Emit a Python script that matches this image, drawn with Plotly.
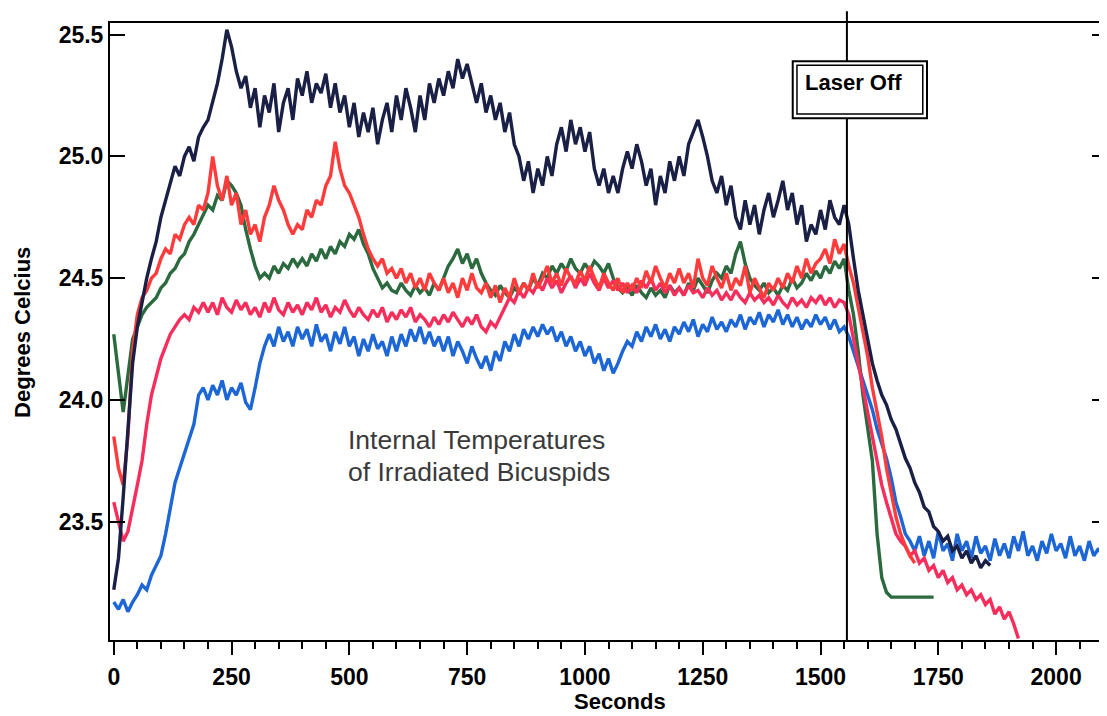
import plotly.graph_objects as go

# time grid (seconds), sampled every 10 s
SECONDS = list(range(0, 2120, 10))

NAVY = [
    23.22, 23.35, 23.60, 23.90, 24.15, 24.30, 24.40, 24.50, 24.58, 24.65,
    24.75, 24.82, 24.90, 24.96, 24.92, 25.00, 25.04, 24.98, 25.08, 25.12,
    25.15, 25.22, 25.30, 25.40, 25.52, 25.45, 25.35, 25.28, 25.33, 25.20,
    25.28, 25.12, 25.25, 25.18, 25.30, 25.10, 25.22, 25.28, 25.15, 25.32,
    25.25, 25.35, 25.22, 25.30, 25.26, 25.34, 25.20, 25.30, 25.18, 25.25,
    25.12, 25.22, 25.08, 25.18, 25.10, 25.20, 25.05, 25.15, 25.22, 25.10,
    25.25, 25.15, 25.28, 25.20, 25.10, 25.25, 25.15, 25.30, 25.22, 25.32,
    25.25, 25.35, 25.28, 25.40, 25.32, 25.38, 25.30, 25.22, 25.30, 25.18,
    25.25, 25.15, 25.22, 25.10, 25.18, 25.05, 25.00, 24.90, 24.98, 24.85,
    24.95, 24.88, 25.00, 24.92, 25.05, 25.12, 25.02, 25.15, 25.05, 25.12,
    25.02, 25.10, 24.95, 24.88, 24.95, 24.85, 24.92, 24.85, 24.95, 25.02,
    24.95, 25.05, 24.98, 24.88, 24.95, 24.80, 24.92, 24.85, 24.98, 24.90,
    25.00, 24.92, 25.05, 25.10, 25.15, 25.08, 25.00, 24.90, 24.85, 24.92,
    24.80, 24.88, 24.75, 24.70, 24.82, 24.72, 24.80, 24.68, 24.78, 24.85,
    24.75, 24.82, 24.90, 24.78, 24.85, 24.72, 24.80, 24.65, 24.72, 24.68,
    24.78, 24.70, 24.82, 24.75, 24.72, 24.80, 24.72, 24.58, 24.45, 24.35,
    24.25, 24.15, 24.08, 24.02, 23.98, 23.92, 23.88, 23.82, 23.76, 23.72,
    23.66, 23.62, 23.56, 23.54, 23.48, 23.46, 23.42, 23.44, 23.38, 23.40,
    23.35, 23.38, 23.33, 23.36, 23.31, 23.34, 23.32,
]

ORANGE_RED = [
    23.85, 23.72, 23.65, 23.85, 24.20, 24.35, 24.42, 24.45, 24.50, 24.52,
    24.58, 24.62, 24.60, 24.68, 24.66, 24.72, 24.75, 24.72, 24.80, 24.78,
    24.85, 25.00, 24.88, 24.82, 24.92, 24.80, 24.85, 24.72, 24.78, 24.68,
    24.72, 24.65, 24.75, 24.80, 24.88, 24.82, 24.78, 24.72, 24.68, 24.72,
    24.70, 24.78, 24.75, 24.82, 24.80, 24.88, 24.92, 25.06, 24.95, 24.88,
    24.85, 24.80, 24.75, 24.68, 24.62, 24.58, 24.55, 24.58, 24.52, 24.54,
    24.50, 24.54, 24.48, 24.52, 24.46, 24.50, 24.45, 24.52, 24.48, 24.45,
    24.50, 24.44, 24.48, 24.42, 24.50, 24.45, 24.52, 24.46, 24.44, 24.48,
    24.42, 24.47, 24.40, 24.46, 24.42, 24.50, 24.44, 24.48, 24.45, 24.52,
    24.46, 24.50, 24.55, 24.48, 24.52, 24.47, 24.54, 24.50, 24.48, 24.53,
    24.49, 24.55, 24.50, 24.46, 24.52, 24.48, 24.45, 24.50, 24.44, 24.48,
    24.45, 24.50, 24.46, 24.53, 24.48, 24.55, 24.50, 24.46, 24.52, 24.48,
    24.54, 24.48, 24.52, 24.46, 24.58, 24.50, 24.47, 24.55, 24.50, 24.46,
    24.52, 24.45, 24.50, 24.47, 24.55, 24.44, 24.50, 24.46, 24.42, 24.48,
    24.45, 24.50, 24.46, 24.52, 24.48, 24.55, 24.50, 24.58, 24.52, 24.56,
    24.58, 24.62, 24.56, 24.66, 24.60, 24.64, 24.55, 24.48, 24.38, 24.28,
    24.18, 24.05, 23.95, 23.85, 23.72, 23.62, 23.52, 23.45, 23.40, 23.36,
    23.33,
]

GREEN = [
    24.27, 24.10, 23.95, 24.10, 24.25, 24.30, 24.35, 24.38, 24.40, 24.42,
    24.46, 24.48, 24.52, 24.54, 24.58, 24.60, 24.65, 24.68, 24.72, 24.76,
    24.80, 24.78, 24.84, 24.82, 24.90, 24.88, 24.85, 24.80, 24.70, 24.62,
    24.55, 24.50, 24.52, 24.50, 24.55, 24.52, 24.56, 24.54, 24.58, 24.55,
    24.58, 24.55, 24.60, 24.57, 24.62, 24.58, 24.63, 24.60, 24.65, 24.63,
    24.68, 24.66, 24.70, 24.64, 24.60, 24.54, 24.50, 24.46, 24.48, 24.45,
    24.44, 24.48, 24.45, 24.43, 24.47, 24.44, 24.46, 24.43, 24.48, 24.45,
    24.50, 24.55, 24.58, 24.62, 24.56, 24.60, 24.54, 24.58, 24.52, 24.48,
    24.45, 24.43, 24.47, 24.44, 24.42, 24.46, 24.44, 24.48, 24.45, 24.50,
    24.47, 24.52, 24.50, 24.55, 24.52, 24.56, 24.53, 24.58, 24.54, 24.52,
    24.56, 24.53, 24.57, 24.55, 24.52, 24.56, 24.50, 24.46, 24.44, 24.46,
    24.43, 24.47, 24.44, 24.42, 24.46, 24.43, 24.45, 24.42, 24.47, 24.44,
    24.46, 24.43, 24.48, 24.45, 24.50, 24.47, 24.44, 24.49, 24.52, 24.50,
    24.55, 24.52, 24.60, 24.65, 24.56, 24.50, 24.47, 24.45, 24.48, 24.44,
    24.46, 24.43, 24.47, 24.45, 24.50, 24.46, 24.48, 24.52, 24.49, 24.53,
    24.50, 24.55, 24.52, 24.57, 24.54, 24.58, 24.45, 24.35, 24.20, 24.02,
    23.88, 23.75, 23.45, 23.27, 23.21, 23.19, 23.19, 23.19, 23.19, 23.19,
    23.19, 23.19, 23.19, 23.19, 23.19,
]

CRIMSON = [
    23.58, 23.50, 23.42, 23.46, 23.55, 23.65, 23.75, 23.90, 24.02, 24.10,
    24.17, 24.22, 24.27, 24.30, 24.33, 24.35, 24.33, 24.38, 24.36, 24.40,
    24.36, 24.40, 24.35, 24.42, 24.38, 24.36, 24.41, 24.37, 24.40, 24.35,
    24.38, 24.34, 24.40, 24.36, 24.42, 24.37, 24.35, 24.40, 24.36, 24.39,
    24.35, 24.40, 24.37, 24.42, 24.36, 24.39, 24.34, 24.38, 24.36, 24.41,
    24.37, 24.34, 24.38, 24.35, 24.33, 24.37, 24.34, 24.38, 24.32, 24.36,
    24.33, 24.37, 24.34, 24.38, 24.32, 24.35, 24.33, 24.30, 24.34, 24.31,
    24.35, 24.32, 24.36, 24.33, 24.30, 24.34, 24.31, 24.35, 24.30, 24.28,
    24.32, 24.30, 24.34, 24.38, 24.42, 24.40, 24.45, 24.42, 24.46, 24.44,
    24.48, 24.45, 24.50, 24.46, 24.49, 24.44, 24.48, 24.51, 24.46, 24.50,
    24.47, 24.52, 24.48, 24.45, 24.50, 24.46, 24.49, 24.45, 24.48, 24.44,
    24.47, 24.44, 24.49, 24.46, 24.50, 24.45, 24.48, 24.44, 24.47, 24.43,
    24.46, 24.43, 24.47, 24.44, 24.45, 24.42, 24.46, 24.43, 24.45, 24.41,
    24.44, 24.41, 24.45, 24.42, 24.40, 24.44, 24.41, 24.43, 24.40, 24.42,
    24.39, 24.43, 24.40, 24.38, 24.42, 24.39, 24.41, 24.38, 24.42, 24.40,
    24.43, 24.39, 24.42, 24.38, 24.41, 24.40, 24.35, 24.25, 24.15, 24.05,
    23.95, 23.85, 23.75, 23.65, 23.58, 23.52, 23.45, 23.42, 23.40, 23.36,
    23.38, 23.33, 23.35, 23.30, 23.32, 23.27, 23.30, 23.25, 23.27, 23.22,
    23.24, 23.20, 23.22, 23.18, 23.20, 23.16, 23.18, 23.12, 23.15, 23.10,
    23.13, 23.08, 23.02,
]

BLUE = [
    23.17, 23.14, 23.18, 23.13, 23.17, 23.20, 23.24, 23.22, 23.28, 23.32,
    23.36, 23.45, 23.55, 23.66, 23.72, 23.78, 23.85, 23.90, 24.02, 24.05,
    24.00, 24.06, 24.02, 24.08, 24.00, 24.05, 24.02, 24.07, 23.99, 23.96,
    24.05, 24.15, 24.22, 24.27, 24.22, 24.30, 24.24, 24.28, 24.22, 24.30,
    24.25, 24.29, 24.22, 24.31, 24.24, 24.27, 24.20, 24.28, 24.23, 24.30,
    24.22, 24.26, 24.18, 24.25, 24.20, 24.27, 24.21, 24.24, 24.18, 24.26,
    24.20, 24.27, 24.22, 24.29, 24.24, 24.30, 24.23, 24.28, 24.22, 24.26,
    24.20, 24.26, 24.18, 24.24, 24.20, 24.15, 24.22, 24.17, 24.13, 24.18,
    24.12, 24.20, 24.16, 24.24, 24.20, 24.27, 24.22, 24.29, 24.25, 24.30,
    24.26, 24.31, 24.27, 24.30, 24.24, 24.28, 24.22, 24.26, 24.20, 24.24,
    24.18, 24.22, 24.15, 24.19, 24.12, 24.17, 24.11, 24.15, 24.20, 24.24,
    24.22, 24.28, 24.24, 24.30, 24.26, 24.31, 24.25, 24.29, 24.24, 24.30,
    24.27, 24.32, 24.28, 24.33, 24.26, 24.31, 24.28, 24.34, 24.29, 24.32,
    24.28, 24.33, 24.30, 24.35, 24.29, 24.34, 24.31, 24.36, 24.30, 24.35,
    24.32, 24.37, 24.31, 24.35, 24.30, 24.34, 24.29, 24.33, 24.30, 24.35,
    24.31, 24.34, 24.29, 24.33, 24.28, 24.30, 24.26, 24.20, 24.13, 24.07,
    24.02, 23.96, 23.88, 23.82, 23.76, 23.68, 23.58, 23.52, 23.45, 23.42,
    23.38, 23.44, 23.36, 23.42, 23.35, 23.46, 23.38, 23.41, 23.34, 23.45,
    23.38, 23.42, 23.35, 23.44, 23.37, 23.40, 23.34, 23.43, 23.36, 23.41,
    23.35, 23.44, 23.38, 23.46, 23.36, 23.40, 23.34, 23.42, 23.37, 23.45,
    23.38, 23.41, 23.35, 23.44, 23.36, 23.40, 23.34, 23.42, 23.36, 23.39,
    23.35, 23.38,
]

X_TICKS = [0, 250, 500, 750, 1000, 1250, 1500, 1750, 2000]
Y_TICKS = [23.5, 24.0, 24.5, 25.0, 25.5]
Y_TICK_LABELS = ["23.5", "24.0", "24.5", "25.0", "25.5"]
LASER_OFF_TIME = 1556

series = [
    (BLUE, "#1c66d6"),
    (GREEN, "#2b6a3e"),
    (CRIMSON, "#f72d5c"),
    (ORANGE_RED, "#ff3b3b"),
    (NAVY, "#1a2045"),
]

fig = go.Figure()
for vals, col in series:
    fig.add_trace(go.Scatter(
        x=SECONDS[:len(vals)], y=vals, mode="lines",
        line=dict(color=col, width=3.4), showlegend=False, hoverinfo="skip"))

FONT = "Arial, Liberation Sans, sans-serif"

# the page body adds an 8 px offset, so the figure is sized 8 px smaller
fig.update_layout(
    width=1099, height=708,
    margin=dict(l=102, r=0, t=15, b=76),
    paper_bgcolor="white", plot_bgcolor="white",
    font=dict(family=FONT, color="black"),
    xaxis=dict(
        range=[-8, 2108], showgrid=False, zeroline=False, automargin=False,
        showline=True, linecolor="black", linewidth=2, mirror=True,
        ticks="outside", ticklen=13, tickwidth=2, tickcolor="black",
        tickvals=X_TICKS, ticktext=[str(v) for v in X_TICKS],
        tickfont=dict(family=FONT, size=23, color="black", weight="bold"),
        ticklabelstandoff=2,
        minor=dict(dtick=50, tick0=0, ticks="outside", ticklen=7,
                   tickwidth=2, tickcolor="black", showgrid=False),
    ),
    yaxis=dict(
        range=[23.014, 25.548], showgrid=False, zeroline=False, automargin=False,
        showline=True, linecolor="black", linewidth=2, mirror="ticks",
        ticks="inside", ticklen=15, tickwidth=2, tickcolor="black",
        tickvals=Y_TICKS, ticktext=Y_TICK_LABELS,
        tickfont=dict(family=FONT, size=23, color="black", weight="bold"),
    ),
)

# Laser off marker line and double-bordered box
fig.add_shape(type="line", xref="x", yref="paper",
              x0=LASER_OFF_TIME, x1=LASER_OFF_TIME, y0=0, y1=1.019,
              line=dict(color="black", width=2))
fig.add_shape(type="rect", xref="x", yref="y",
              x0=1441, x1=1726, y0=25.157, y1=25.391,
              fillcolor="white", line=dict(color="black", width=2))
fig.add_shape(type="rect", xref="x", yref="y",
              x0=1450, x1=1717, y0=25.174, y1=25.374,
              fillcolor="rgba(0,0,0,0)", line=dict(color="black", width=1.5))
fig.add_annotation(x=1570, y=25.305, xref="x", yref="y",
                   text="Laser Off", showarrow=False,
                   font=dict(family=FONT, size=22, color="black", weight="bold"))

fig.add_annotation(x=493, y=23.834, xref="x", yref="y", xanchor="left",
                   yanchor="middle", showarrow=False,
                   text="Internal Temperatures",
                   font=dict(family=FONT, size=26.5, color="#3a3a3a"))
fig.add_annotation(x=493, y=23.706, xref="x", yref="y", xanchor="left",
                   yanchor="middle", showarrow=False,
                   text="of Irradiated Bicuspids",
                   font=dict(family=FONT, size=26.5, color="#3a3a3a"))

# Axis titles
fig.add_annotation(x=0.512, y=-0.1, xref="paper", yref="paper",
                   text="Seconds", showarrow=False, yanchor="middle",
                   font=dict(family=FONT, size=22, color="black", weight="bold"))
fig.add_annotation(x=-0.0885, y=0.499, xref="paper", yref="paper",
                   text="Degrees Celcius", showarrow=False, textangle=-90,
                   xanchor="center", yanchor="middle",
                   font=dict(family=FONT, size=22, color="black", weight="bold"))

fig.write_html("out.html")
